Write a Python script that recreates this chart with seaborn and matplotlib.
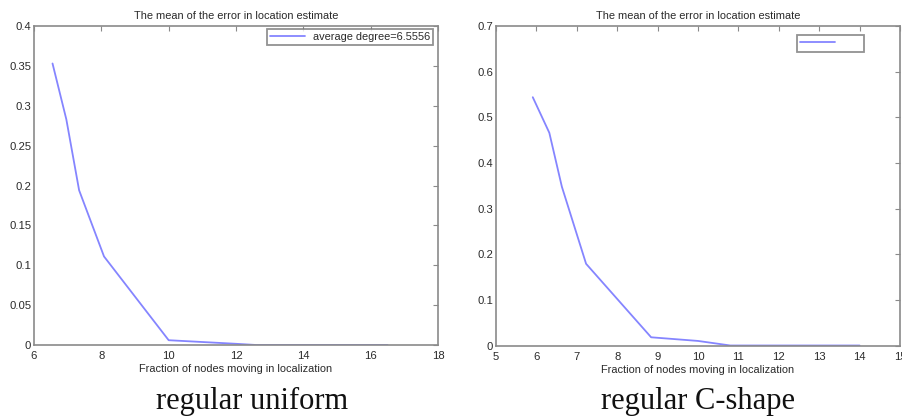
import matplotlib
matplotlib.use("Agg")
import matplotlib.pyplot as plt
import seaborn as sns
import pandas as pd
from matplotlib.ticker import FuncFormatter, MultipleLocator

# Mean localisation error vs. fraction of nodes moving
uniform_x = [6.55, 6.96, 7.34, 8.08, 10.0, 12.0, 12.6, 16.5]
uniform_err = [0.353, 0.283, 0.194, 0.111, 0.006, 0.0015, 0.0, 0.0]

cshape_x = [5.91, 6.32, 6.63, 7.23, 8.84, 10.0, 10.8, 14.0]
cshape_err = [0.544, 0.466, 0.348, 0.179, 0.018, 0.010, 0.0, 0.0]

panel_titles = ["The mean of the error in location estimate",
                "The mean of the error in location estimate"]
x_label = "Fraction of nodes moving in localization"
captions = ["regular uniform", "regular C-shape"]
legend_labels = ["average degree=6.5556", "      "]

sns.set_theme(style="white")
plt.rcParams["font.family"] = ["Liberation Sans", "DejaVu Sans"]

W, H = 902, 420
fig = plt.figure(figsize=(W / 100, H / 100), dpi=100)

LINE = "#8585ff"
FRAME = "#8a8a8a"
TEXT = "#2a2a2a"


def px_axes(x0, x1, y0, y1):
    return fig.add_axes([x0 / W, 1 - y1 / H, (x1 - x0) / W, (y1 - y0) / H])


panels = [
    dict(box=(34, 438, 26, 345), x=uniform_x, y=uniform_err,
         xlim=(6, 18), xstep=2, ylim=(0, 0.4), ystep=0.05,
         leg_anchor=(0.988, 0.992)),
    dict(box=(496, 900, 26, 345.5), x=cshape_x, y=cshape_err,
         xlim=(5, 15), xstep=1, ylim=(0, 0.7), ystep=0.1,
         leg_anchor=(0.911, 0.972)),
]

fmt = FuncFormatter(lambda v, p: "%g" % round(v, 4))

for i, p in enumerate(panels):
    ax = px_axes(*p["box"])
    df = pd.DataFrame({"x": p["x"], "err": p["y"]})
    sns.lineplot(data=df, x="x", y="err", ax=ax, color=LINE, linewidth=1.3,
                 sort=False, estimator=None)
    ax.set_xlim(*p["xlim"])
    ax.set_ylim(*p["ylim"])
    ax.xaxis.set_major_locator(MultipleLocator(p["xstep"]))
    ax.yaxis.set_major_locator(MultipleLocator(p["ystep"]))
    ax.xaxis.set_major_formatter(fmt)
    ax.yaxis.set_major_formatter(fmt)
    ax.tick_params(direction="in", length=3.5, width=0.8, color=FRAME,
                   top=True, right=True, labelsize=8.1, labelcolor=TEXT,
                   pad=2)
    ax.tick_params(axis="x", pad=4.5)
    for s in ax.spines.values():
        s.set_color(FRAME)
        s.set_linewidth(1.2)
    ax.set_title(panel_titles[i], fontsize=7.9, color=TEXT, pad=5)
    ax.set_xlabel(x_label, fontsize=7.9, color=TEXT, labelpad=2)
    ax.set_ylabel("")
    handle = ax.get_lines()[0]
    leg = ax.legend([handle], [legend_labels[i]], loc="upper right",
                    bbox_to_anchor=p["leg_anchor"], fontsize=7.9,
                    frameon=True, fancybox=False, handlelength=3.2,
                    handletextpad=0.7, borderpad=0.3, borderaxespad=0)
    leg.get_frame().set_edgecolor("#777777")
    leg.get_frame().set_linewidth(1.3)
    for t in leg.get_texts():
        t.set_color(TEXT)
    cx = (p["box"][0] + p["box"][1]) / 2 + (16 if i == 0 else 0)
    fig.text(cx / W, 1 - 401 / H, captions[i], ha="center", va="center",
             fontsize=22, family=["Liberation Serif", "DejaVu Serif"],
             color="#111111")

fig.savefig("out.png", dpi=100)
